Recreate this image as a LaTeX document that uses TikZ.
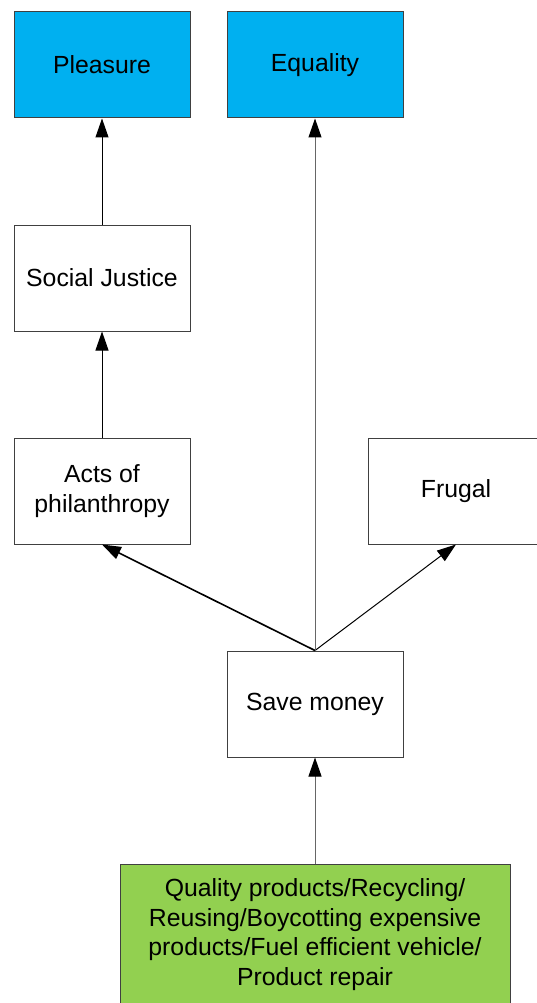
\documentclass[tikz,border=0pt]{standalone}
\usepackage{fontspec}
\setmainfont{Liberation Sans}
\usetikzlibrary{arrows.meta}
\definecolor{boxblue}{HTML}{00B0F0}
\definecolor{boxgreen}{HTML}{92D050}
\definecolor{edgegray}{HTML}{404040}
\begin{document}
\begin{tikzpicture}[x=1pt,y=1pt,
  box/.style={draw=edgegray, line width=1pt, minimum width=176pt, minimum height=106pt,
    inner sep=0pt, align=center, font=\fontsize{24.8}{29.5}\selectfont},
  link/.style={line width=1pt, -{Triangle[length=19pt,width=13pt,color=black]}},
]
\useasboundingbox (0,0) rectangle (536,-1003);
\fill[white] (0,0) rectangle (536,-1003);

\node[box, fill=boxblue] (pleasure) at (102,-65) {Pleasure};
\node[box, fill=boxblue] (equality) at (315,-65) {Equality};
\node[box] (justice) at (102,-278) {Social Justice};
\node[box] (acts) at (102,-491) {Acts of\\philanthropy};
\node[box] (frugal) at (456,-491) {Frugal};
\node[box] (save) at (315,-704) {Save money};
\node[box, fill=boxgreen, minimum width=390pt, minimum height=141pt] (actions) at (315,-934.5)
  {Quality products/Recycling/\\Reusing/Boycotting expensive\\products/Fuel efficient vehicle/\\Product repair};

\draw[link, draw=gray!80!black] (actions.north) -- (save.south);
\draw[link, line width=1.6pt] (save.north) -- (acts.south);
\draw[link] (save.north) -- (frugal.south);
\draw[link, draw=gray!80!black] (save.north) -- (equality.south);
\draw[link] (acts.north) -- (justice.south);
\draw[link] (justice.north) -- (pleasure.south);
\end{tikzpicture}
\end{document}
